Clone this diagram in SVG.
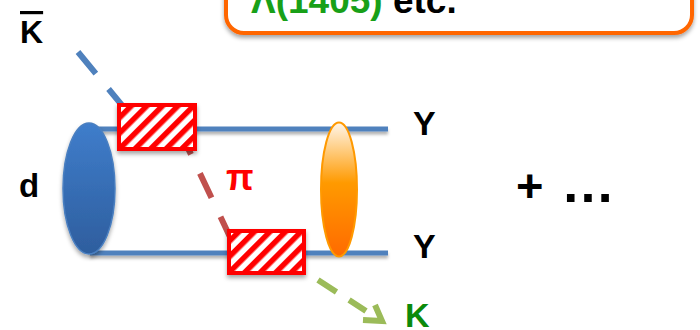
<svg xmlns="http://www.w3.org/2000/svg" width="700" height="330" viewBox="0 0 700 330">
  <defs>
    <style>
      .lbl { font-family: "Liberation Sans", Arial, sans-serif; font-weight: bold; }
      .line { fill: none; stroke: #4F81BD; stroke-width: 5; }
      .dash { fill: none; stroke-width: 6; }
      .hatch { fill: url(#stripes); stroke: #FF0000; stroke-width: 4; }
    </style>
    <pattern id="stripes" patternUnits="userSpaceOnUse" width="11" height="11" patternTransform="rotate(45)">
      <rect width="11" height="11" fill="#FFFFFF"/>
      <rect width="5.5" height="11" fill="#FF0000"/>
    </pattern>
    <linearGradient id="blueFill" x1="0" y1="0" x2="0" y2="1">
      <stop offset="0" stop-color="#3F7DCB"/>
      <stop offset="1" stop-color="#2E5E9E"/>
    </linearGradient>
    <linearGradient id="orangeFill" x1="0" y1="0" x2="0" y2="1">
      <stop offset="0" stop-color="#FFF6EA"/>
      <stop offset="0.45" stop-color="#FF9A00"/>
      <stop offset="1" stop-color="#FF6A00"/>
    </linearGradient>
    <filter id="shadow" x="-20%" y="-20%" width="140%" height="160%">
      <feDropShadow dx="0" dy="3" stdDeviation="2" flood-color="#000000" flood-opacity="0.35"/>
    </filter>
    <!-- flat lines have an empty bbox height, so this one works in user space -->
    <filter id="lineShadow" filterUnits="userSpaceOnUse" x="0" y="0" width="700" height="330">
      <feDropShadow dx="0" dy="3" stdDeviation="1.5" flood-color="#000000" flood-opacity="0.3"/>
    </filter>
  </defs>

  <!-- callout box at the top -->
  <g id="note">
    <rect x="226" y="-40" width="466" height="73" rx="18" fill="#FFFFFF" stroke="#FF6600" stroke-width="4" filter="url(#shadow)"/>
    <text class="lbl" x="251" y="13" font-size="37"><tspan fill="#18A018">Λ(1405)</tspan><tspan fill="#000000"> etc.</tspan></text>
  </g>

  <!-- propagators -->
  <g id="connectors">
    <line class="line" x1="90" y1="129" x2="388" y2="129" filter="url(#lineShadow)"/>
    <line class="line" x1="90" y1="253" x2="388" y2="253" filter="url(#lineShadow)"/>
    <line class="dash" x1="78" y1="52" x2="135" y2="121" stroke="#4F81BD" stroke-dasharray="28 20"/>
    <line class="dash" x1="179.4" y1="130" x2="240" y2="258" stroke="#C0504D" stroke-dasharray="27 21"/>
    <line class="dash" x1="318" y1="280" x2="366" y2="311" stroke="#9BBB59" stroke-dasharray="22 15"/>
    <path d="M 363 320 L 382 321 L 375 305" fill="none" stroke="#9BBB59" stroke-width="6"/>
  </g>

  <!-- deuteron -->
  <g id="deuteron">
    <ellipse cx="89" cy="188.5" rx="26" ry="65.5" fill="url(#blueFill)" stroke="#4A7FC0" stroke-width="1.5" filter="url(#shadow)"/>
    <text class="lbl" x="19" y="197" font-size="33" fill="#000000">d</text>
  </g>

  <!-- final-state correlation -->
  <g id="yy">
    <ellipse cx="339" cy="189.5" rx="18" ry="67" fill="url(#orangeFill)" stroke="#FF9900" stroke-width="2"/>
  </g>

  <!-- vertices -->
  <g id="vertex-upper">
    <rect class="hatch" x="119" y="105" width="76" height="44" filter="url(#shadow)"/>
  </g>
  <g id="vertex-lower">
    <rect class="hatch" x="229" y="231" width="75" height="42" filter="url(#shadow)"/>
  </g>

  <!-- labels -->
  <g id="kbar">
    <text class="lbl" x="20" y="43" font-size="32" fill="#000000" text-decoration="overline">K</text>
  </g>
  <g id="pion">
    <text class="lbl" x="226" y="190" font-size="36" fill="#FF0000">π</text>
  </g>
  <g id="y-upper">
    <text class="lbl" x="413" y="135" font-size="34" fill="#000000">Y</text>
  </g>
  <g id="y-lower">
    <text class="lbl" x="413" y="258" font-size="34" fill="#000000">Y</text>
  </g>
  <g id="kaon">
    <text class="lbl" x="405" y="327" font-size="34" fill="#0B8A0B">K</text>
  </g>
  <g id="more">
    <text class="lbl" y="202" fill="#000000"><tspan x="516" font-size="47">+</tspan><tspan x="561" font-size="54">…</tspan></text>
  </g>
</svg>
